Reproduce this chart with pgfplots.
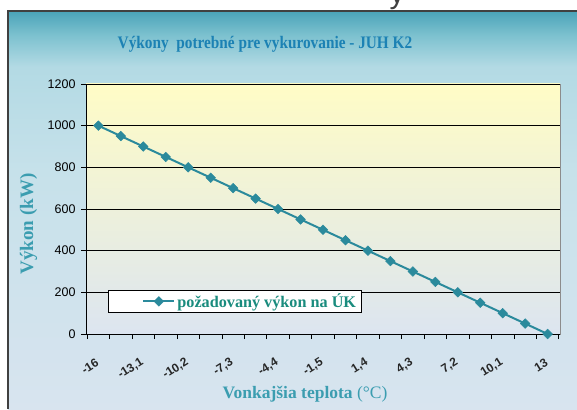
\documentclass[border=0pt]{standalone}
\usepackage{pgfplots}
\pgfplotsset{compat=1.18}
\usepackage{graphicx}
\usepackage{fontspec}
\setmainfont{Liberation Serif}
\newfontfamily\sansf{Liberation Sans}
\definecolor{bgA}{HTML}{D8E4EF}
\definecolor{bgB}{HTML}{C6E1EA}
\definecolor{bgC}{HTML}{B3DAE4}
\definecolor{bgD}{HTML}{7CC1CF}
\definecolor{bgE}{HTML}{4AA3B8}
\definecolor{plotTop}{HTML}{FFFCC6}
\definecolor{plotMid}{HTML}{F7F5DA}
\definecolor{plotBot}{HTML}{DCE5F0}
\definecolor{titleC}{HTML}{1C82B4}
\definecolor{labelC}{HTML}{3B9DB0}
\definecolor{legC}{HTML}{1A8C7E}
\definecolor{lineC}{HTML}{2B8A9C}
\pgfdeclareverticalshading{outerbg}{100bp}{color(0bp)=(bgA); color(25bp)=(bgA); color(55bp)=(bgB); color(68bp)=(bgC); color(72bp)=(bgD); color(75bp)=(bgE); color(100bp)=(bgE)}
\pgfplotstableread{
idx val
0 1000
1 950
2 900
3 850
4 800
5 750
6 700
7 650
8 600
9 550
10 500
11 450
12 400
13 350
14 300
15 250
16 200
17 150
18 100
19 50
20 0
}\datatable
\begin{document}
\begin{tikzpicture}[x=1pt,y=1pt]
\useasboundingbox (0,0) rectangle (577,409);
\fill[white] (0,0) rectangle (577,409);
\begin{scope}
\clip (380,398) rectangle (420,409);
\node[font=\sansf\fontsize{30}{30}\selectfont, text=black!75, anchor=base, inner sep=0pt] at (397,405) {y};
\end{scope}
\shade[shading=outerbg] (8,0) rectangle (577,398);
\draw[black!75, line width=1.2pt] (8,0) -- (8,398) -- (577,398);
\node[font=\bfseries\fontsize{15.3}{15}\selectfont, text=titleC, yscale=1.15, transform shape] at (265,365) {Výkony\ \ potrebné pre vykurovanie - JUH K2};
\begin{axis}[
  at={(86pt,75pt)}, anchor=south west,
  scale only axis, width=474pt, height=250pt,
  xmin=-0.55, xmax=20.55, ymin=0, ymax=1200,
  axis lines*=left,
  axis line style={black, line width=0.9pt, -},
  axis background/.style={shade, top color=plotTop, middle color=plotMid, bottom color=plotBot, draw=black!45, line width=0.8pt},
  ytick={0,200,...,1200},
  ymajorgrids,
  grid style={black, line width=0.9pt},
  tick align=outside,
  major tick length=5pt,
  minor tick length=5pt,
  tick style={black, line width=0.8pt},
  xtick={0,2,...,20},
  xticklabels={-16,{-13,1},{-10,2},{-7,3},{-4,4},{-1,5},{1,4},{4,3},{7,2},{10,1},13},
  minor xtick={-0.5,0.5,...,20.5},
  every major x tick/.append style={draw=none},
  xticklabel style={yshift=-22pt, xshift=0pt, rotate=32, anchor=east, inner sep=1pt, font=\sansf\bfseries\fontsize{12}{12}\selectfont, text=black!85},
  /pgf/number format/assume math mode=true,
  /pgf/number format/1000 sep={},
  yticklabel style={font=\sansf\fontsize{12.5}{13}\selectfont, xshift=-2pt},
  ylabel={Výkon (kW)},
  ylabel style={at={(axis description cs:-0.121,0.44)}, anchor=center, font=\bfseries\fontsize{19}{19}\selectfont, text=labelC},
  xlabel={{\bfseries Vonkajšia teplota} (°C)},
  xlabel style={at={(axis description cs:0.462,-0.24)}, anchor=center, font=\fontsize{17.5}{17.5}\selectfont, text=labelC},
  legend style={at={(axis description cs:0.0464,0.084)}, anchor=south west, draw=black, line width=0.8pt, fill=white, font=\bfseries\fontsize{16.2}{16}\selectfont, text=legC, inner xsep=3pt, inner ysep=1.5pt},
  legend image code/.code={\path (-31pt,0pt); \draw[mark repeat=2,mark phase=2,#1] plot coordinates {(0pt,0pt) (15.5pt,0pt) (31pt,0pt)};},
]
\addplot[color=lineC, line width=2pt, mark=square*, mark size=3.4pt, mark options={rotate=45, solid, fill=lineC, line width=0.5pt}] table[x=idx, y=val] {\datatable};
\addlegendentry{požadovaný výkon na ÚK}
\end{axis}
\end{tikzpicture}
\end{document}
